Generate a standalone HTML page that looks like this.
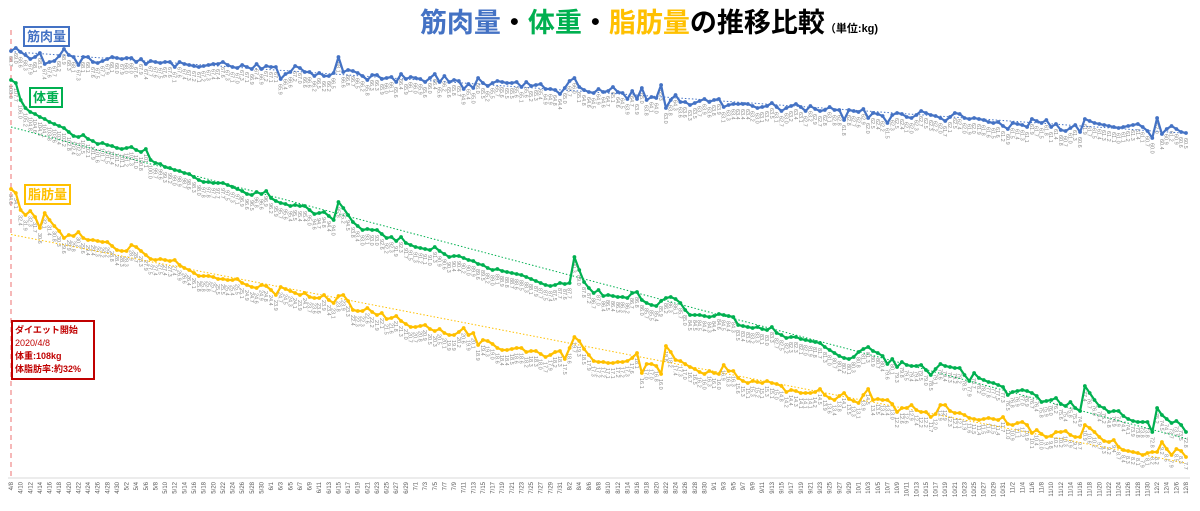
<!DOCTYPE html>
<html><head><meta charset="utf-8">
<style>
html,body{margin:0;padding:0;background:#fff;}
body{width:1200px;height:511px;overflow:hidden;position:relative;font-family:"Liberation Sans","Noto Sans CJK JP",sans-serif;}
#title{position:absolute;left:0;width:1298px;top:1px;text-align:center;font-weight:bold;font-size:27px;font-family:"Liberation Sans","Noto Sans CJK JP",sans-serif;}
.tag{position:absolute;font-weight:bold;font-size:13px;background:#fff;padding:0 2px;line-height:17px;border:2px solid;}
#note{position:absolute;left:11px;top:320px;width:78px;height:54px;border:2px solid #c00000;color:#c00000;font-size:9px;line-height:13px;font-weight:bold;padding:2px 0 0 2px;background:#fff;}
</style></head>
<body>
<div id="title"><span style="color:#4472C4">筋肉量</span>・<span style="color:#00B050">体重</span>・<span style="color:#FFC000">脂肪量</span>の推移比較<span style="font-size:11px">（単位:kg)</span></div>
<svg id="chart" width="1200" height="511" style="position:absolute;left:0;top:0"></svg>
<div class="tag" style="left:23px;top:26px;color:#4472C4;border-color:#4472C4">筋肉量</div>
<div class="tag" style="left:29px;top:87px;color:#00B050;border-color:#00B050">体重</div>
<div class="tag" style="left:24px;top:184px;color:#FFC000;border-color:#FFC000">脂肪量</div>
<div id="note">ダイエット開始<br><span style="font-weight:normal">2020/4/8</span><br>体重:108kg<br>体脂肪率:約32%</div>
<script>
const muscle=[68.7,69.0,68.6,68.3,67.9,68.1,68.5,67.4,67.6,67.7,
68.2,68.9,68.3,68.1,67.3,68.1,68.1,67.6,67.5,67.7,
67.9,68.1,68.0,67.9,68.0,68.0,67.6,67.9,67.4,67.7,
67.6,67.5,67.6,67.6,67.1,67.6,67.4,67.3,67.2,67.1,
67.2,67.3,67.4,67.4,67.6,67.3,67.1,67.0,67.3,67.1,
66.9,67.4,66.9,67.2,67.1,67.1,65.9,66.4,66.6,67.2,
67.0,66.6,66.6,66.2,66.5,66.2,66.2,66.5,68.1,66.6,
66.8,66.7,66.5,66.2,65.8,66.3,66.3,65.9,66.0,66.1,
65.6,66.4,65.9,66.1,66.0,65.9,65.6,66.0,66.4,65.6,
66.2,65.6,65.8,65.7,64.9,65.4,65.0,66.0,65.5,65.2,
65.5,65.7,65.6,65.5,65.5,65.6,65.1,65.6,65.2,65.3,
65.4,64.9,64.9,64.8,64.4,65.0,65.7,66.0,65.1,64.8,
64.6,64.5,64.9,64.6,64.7,65.1,64.6,64.5,63.9,64.7,
63.9,65.0,63.8,64.1,64.0,65.3,63.0,63.8,64.3,63.6,
63.6,63.3,63.5,63.7,63.9,63.6,63.8,63.9,63.1,63.3,
63.4,63.4,63.4,63.4,63.2,63.0,63.1,63.2,63.5,63.1,
62.7,63.0,63.2,63.4,63.1,62.7,63.2,62.9,62.7,62.8,
63.1,62.8,62.8,61.8,62.8,62.7,62.6,62.9,62.0,62.5,
62.4,62.2,61.5,62.3,62.5,62.4,62.1,62.0,62.3,62.7,
62.5,62.3,62.2,62.0,61.7,62.1,62.5,62.4,62.0,61.9,
62.0,61.9,61.8,61.6,61.5,61.6,61.2,60.9,61.5,61.4,
61.3,61.1,61.9,61.7,61.5,61.8,61.1,61.4,60.8,60.7,
61.0,61.3,60.6,61.9,61.7,61.5,61.4,61.3,61.2,61.1,
61.0,61.1,61.2,61.3,61.4,61.1,60.7,60.0,62.0,60.4,
60.9,61.2,60.9,60.6,60.5];
const weight=[108.0,107.7,106.0,105.2,104.8,104.6,104.3,104.1,103.8,103.6,
103.4,103.2,102.8,102.4,102.3,102.5,102.1,101.9,101.6,101.7,
101.5,101.4,101.2,101.1,101.2,101.3,101.0,100.8,101.1,100.0,
99.7,99.6,99.3,99.2,99.0,98.9,98.7,98.6,98.3,98.0,
97.8,97.8,97.7,97.7,97.7,97.5,97.3,97.1,96.9,96.6,
96.5,96.8,96.6,96.9,96.2,95.9,95.7,95.6,95.4,95.5,
95.4,95.4,95.0,94.6,94.7,94.8,94.4,94.0,95.8,95.2,
94.5,93.8,93.4,93.0,93.1,93.0,93.0,92.6,92.2,92.3,
91.9,92.3,91.7,91.5,91.3,91.2,91.1,91.0,91.3,90.9,
90.6,90.3,90.4,90.4,90.2,90.0,89.9,89.6,89.5,89.2,
89.0,89.1,88.9,88.8,88.7,88.6,88.5,88.3,88.1,87.9,
87.7,87.5,87.4,87.5,87.7,87.6,87.7,90.3,89.0,87.8,
87.2,86.7,87.0,86.4,86.5,86.4,86.3,86.3,86.2,86.7,
86.8,86.0,85.7,85.5,85.4,85.9,86.2,86.3,86.1,85.7,
85.0,84.5,84.5,84.5,84.4,84.3,84.4,84.6,84.5,84.4,
84.3,83.5,83.4,83.3,83.2,83.3,83.1,83.0,83.3,82.7,
82.5,82.2,82.3,82.3,82.1,82.0,81.9,81.8,81.7,81.3,
81.0,80.7,80.4,80.2,80.1,80.3,80.8,81.1,81.3,80.9,
80.7,80.4,79.6,80.1,79.3,79.8,79.5,79.4,79.4,79.5,
79.0,78.5,79.1,79.6,79.4,79.3,79.2,79.2,78.5,77.9,
78.7,78.2,78.0,77.8,77.7,77.5,77.3,76.5,76.8,76.9,
77.0,76.9,76.7,76.4,75.8,75.9,76.0,76.2,75.6,75.4,
75.8,75.2,74.9,77.4,76.7,76.0,75.4,75.2,74.8,74.9,
74.9,74.4,74.1,73.9,73.8,73.8,73.8,72.8,75.2,74.5,
74.1,73.7,73.9,73.5,72.8];
const fat=[34.5,34.1,32.4,31.9,32.3,31.7,30.6,32.1,31.4,30.8,
30.3,29.6,29.9,29.8,30.2,29.6,29.4,29.4,29.3,29.2,
29.2,28.8,28.4,28.3,28.3,28.9,28.7,28.3,27.9,27.5,
27.4,27.5,27.4,27.3,27.4,26.9,26.6,26.4,26.1,25.8,
25.8,25.8,25.7,25.5,25.5,25.4,25.4,25.5,25.1,24.9,
24.7,24.6,24.9,24.8,24.4,23.9,24.7,24.5,24.3,24.1,
23.9,24.1,23.7,23.6,23.6,23.9,23.4,23.1,23.8,23.9,
23.3,22.4,22.3,22.3,22.6,22.2,21.9,22.1,21.5,21.6,
21.8,21.3,21.0,20.7,20.7,20.8,20.9,20.5,20.3,20.5,
20.1,19.9,19.9,20.2,20.6,19.9,20.1,18.9,19.4,19.3,
19.0,18.6,18.4,18.4,18.5,18.6,18.6,18.2,18.3,18.3,
18.0,17.7,17.9,18.2,18.3,17.5,18.6,19.7,19.3,18.5,
17.9,17.3,17.2,17.2,17.1,17.1,17.2,17.2,17.3,17.6,
18.1,16.1,17.0,17.0,16.8,16.0,18.8,18.2,17.4,17.3,
17.0,16.7,16.5,16.2,16.0,16.3,16.1,16.0,16.9,16.3,
16.3,15.6,15.3,15.1,15.3,15.2,15.1,15.3,15.1,15.0,
14.8,14.2,14.4,14.3,14.1,14.1,14.1,14.2,14.5,13.9,
13.6,13.4,13.8,14.1,13.5,13.3,13.1,13.9,14.5,13.4,
13.5,13.4,13.4,13.0,12.2,12.6,12.6,12.9,12.4,12.2,
12.2,11.7,12.0,12.9,12.9,12.3,12.1,12.1,11.9,11.6,
11.5,11.4,11.5,11.6,11.5,11.4,11.7,11.0,10.9,11.1,
11.2,10.9,10.1,10.4,10.0,9.7,9.8,10.2,10.2,10.3,
9.9,9.7,9.7,10.9,10.6,10.2,9.7,9.3,9.2,9.4,
8.7,8.4,8.3,8.2,8.1,7.9,8.1,8.2,8.2,9.2,
8.5,7.9,8.5,8.3,7.7];
const startDate=[2020,3,8];

const NS="http://www.w3.org/2000/svg";
const svg=document.getElementById('chart');
const N=weight.length;
function xs(i){return 11+i*(1175/(N-1));}
function yMuscle(v){return 48+(69-v)*10;}
function yWeight(v){return 80+(108-v)*10;}
function yFat(v){return 189+(34.5-v)*10;}
function mk(tag,attrs){const e=document.createElementNS(NS,tag);for(const k in attrs)e.setAttribute(k,attrs[k]);svg.appendChild(e);return e;}

const ax=mk('line',{x1:8,x2:1190,y1:478,y2:478,stroke:'#d9d9d9','stroke-width':1});


const d0=new Date(startDate[0],startDate[1],startDate[2]);
for(let i=0;i<N;i+=2){
  const d=new Date(d0.getTime()+i*86400000);
  const t=mk('text',{x:0,y:0,'font-size':6,fill:'#595959','text-anchor':'end',transform:`translate(${xs(i)+2},482) rotate(-90)`});
  t.textContent=(d.getMonth()+1)+'/'+d.getDate();
  
  
}
const sl=mk('line',{x1:11,x2:11,y1:30,y2:478,stroke:'#f4a0a0','stroke-width':1.5,'stroke-dasharray':'5,4'});



function series(data,ys,color,name){
  for(let i=0;i<N;i++){
    const t=mk('text',{x:0,y:0,'font-size':5.5,fill:'#8c8c8c',transform:`translate(${xs(i)-2},${ys(data[i])+5}) rotate(90)`});
    t.textContent=data[i].toFixed(1);
    
    
  }
  let sx=0,sy=0,sxx=0,sxy=0;
  for(let i=0;i<N;i++){sx+=i;sy+=data[i];sxx+=i*i;sxy+=i*data[i];}
  const b=(N*sxy-sx*sy)/(N*sxx-sx*sx),a=(sy-b*sx)/N;
  const tl=mk('line',{x1:xs(0),y1:ys(a),x2:xs(N-1),y2:ys(a+b*(N-1)),stroke:color,'stroke-width':1,'stroke-dasharray':'1.5,2'});
  
  
  let p='';
  for(let i=0;i<N;i++)p+=(i?'L':'M')+xs(i).toFixed(1)+','+ys(data[i]).toFixed(1);
  const pl=mk('path',{d:p,fill:'none',stroke:color,'stroke-width':2.2,'stroke-linejoin':'round'});
  
  
  for(let i=0;i<N;i++){
    const c=mk('circle',{cx:xs(i),cy:ys(data[i]),r:1.9,fill:color});
    
    
  }
}
series(muscle,yMuscle,'#4472C4','muscle');
series(weight,yWeight,'#00B050','weight');
series(fat,yFat,'#FFC000','fat');
</script>
</body></html>
